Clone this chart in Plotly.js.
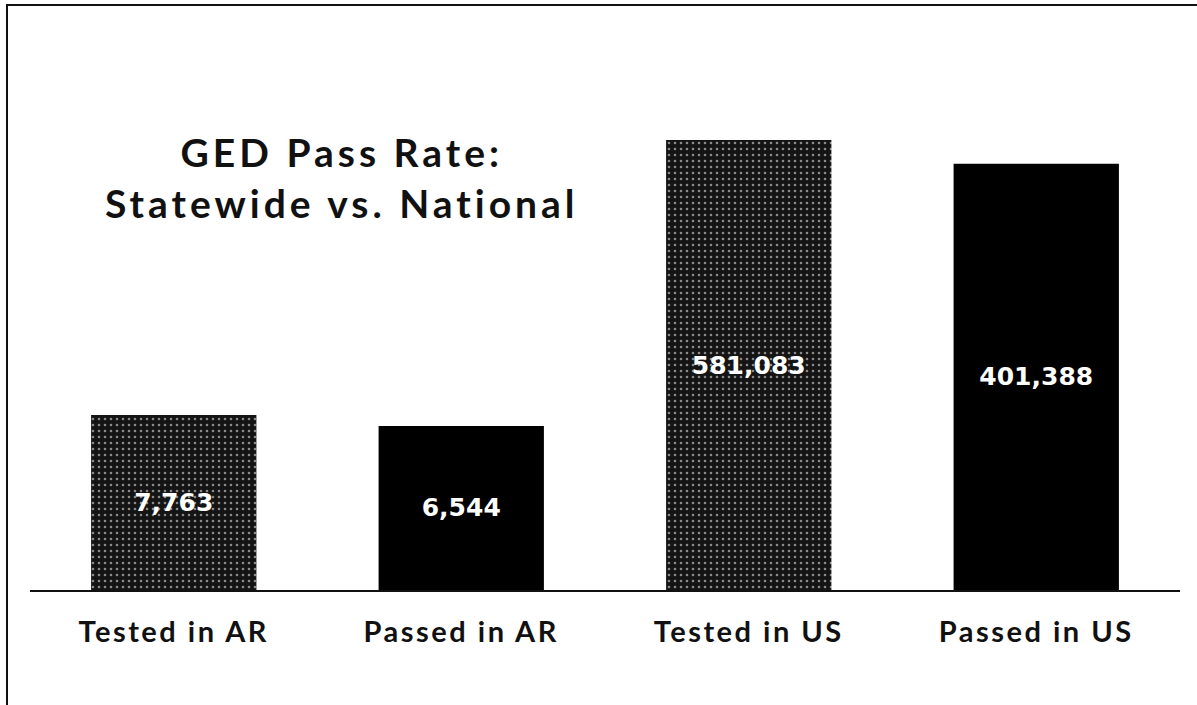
<!DOCTYPE html>
<html>
<head>
<meta charset="utf-8">
<script src="https://cdn.plot.ly/plotly-3.0.1.min.js"></script>
<style>
  html, body { margin: 0; padding: 0; background: #fff; }
  #wrap { position: relative; width: 1197px; height: 705px; overflow: hidden; }
  #chart { width: 1197px; height: 705px; }
  #bl { position: absolute; left: 6px; top: 4px; width: 2px; height: 701px; background: #111; pointer-events: none; }
  #bt { position: absolute; left: 6px; top: 4px; width: 1191px; height: 2px; background: #111; pointer-events: none; }
  .annotation-text { letter-spacing: 4px; }
  .xtick text { letter-spacing: 2.5px; }
</style>
</head>
<body>
<div id="wrap">
  <div id="chart"></div>
  <div id="bl"></div>
  <div id="bt"></div>
</div>
<script>
const categories = ["Tested in AR", "Passed in AR", "Tested in US", "Passed in US"];
const values = [7763, 6544, 581083, 401388];
const valueLabels = ["7,763", "6,544", "581,083", "401,388"];
const titleLines = ["GED Pass Rate:", "Statewide vs. National"];

const barColors = ["#141414", "#000000", "#141414", "#000000"];
const patternShapes = [".", "", ".", ""];

const trace = {
  type: "bar",
  x: categories,
  y: values,
  text: valueLabels,
  textposition: "inside",
  insidetextanchor: "middle",
  textangle: 0,
  constraintext: "none",
  textfont: { family: "DejaVu Sans, Verdana, sans-serif", size: 25, color: "#ffffff", weight: "bold" },
  hoverinfo: "x+y",
  marker: {
    color: barColors,
    line: { width: 0 },
    pattern: { shape: patternShapes, fillmode: "overlay", fgcolor: "#6a6a6a", size: 6, solidity: 0.15 }
  }
};

const layout = {
  width: 1197,
  height: 705,
  margin: { l: 30, r: 17, t: 20, b: 115 },
  paper_bgcolor: "#ffffff",
  plot_bgcolor: "#ffffff",
  showlegend: false,
  bargap: 0.425,
  xaxis: {
    type: "category",
    showline: true,
    linecolor: "#111111",
    linewidth: 2,
    ticks: "outside",
    ticklen: 15,
    tickcolor: "rgba(0,0,0,0)",
    tickfont: { family: "Lato, 'Open Sans', sans-serif", size: 29, color: "#111111", weight: "bold" },
    showgrid: false,
    zeroline: false,
    fixedrange: true
  },
  yaxis: {
    type: "log",
    range: [2.697, 6.583],
    visible: false,
    showgrid: false,
    zeroline: false,
    fixedrange: true
  },
  annotations: [
    {
      xref: "paper", yref: "paper",
      x: (342 - 30) / 1150, y: 1 - (178 - 20) / 570,
      xanchor: "center", yanchor: "middle",
      text: titleLines.join("<br>"),
      showarrow: false,
      align: "center",
      font: { family: "Lato, 'Open Sans', sans-serif", size: 39, color: "#111111", weight: "bold" }
    }
  ]
};

Plotly.newPlot("chart", [trace], layout, { displayModeBar: false, staticPlot: true });
</script>
</body>
</html>
